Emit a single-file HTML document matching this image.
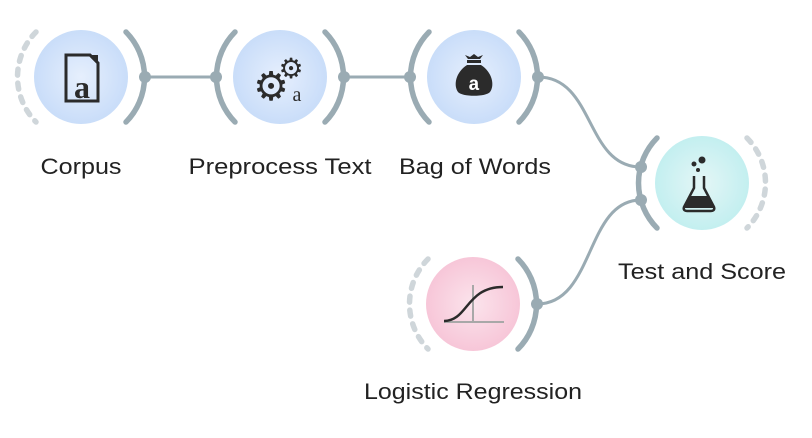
<!DOCTYPE html>
<html><head><style>
html,body{margin:0;padding:0;background:#fff;}
svg{display:block;}
text{font-family:"Liberation Sans",sans-serif;font-size:22px;fill:#222;}
</style></head><body>
<svg width="812" height="438" viewBox="0 0 812 438" xmlns="http://www.w3.org/2000/svg">
<defs>
<radialGradient id="gb" cx="50%" cy="50%" r="50%"><stop offset="0" stop-color="#e6effd"/><stop offset="1" stop-color="#c9ddf9"/></radialGradient>
<radialGradient id="gt" cx="50%" cy="50%" r="50%"><stop offset="0" stop-color="#e4f6f6"/><stop offset="1" stop-color="#c3eff0"/></radialGradient>
<radialGradient id="gp" cx="50%" cy="50%" r="50%"><stop offset="0" stop-color="#fbe4ec"/><stop offset="1" stop-color="#f7c6d8"/></radialGradient>
</defs>
<g fill="none" stroke="#9aabb3" stroke-width="3">
<path d="M145,77 L216,77"/>
<path d="M344,77 L410,77"/>
<path d="M538,77 C595,77 585,167 641,167"/>
<path d="M537,304 C595,304 585,200 641,200"/>
</g>
<g fill="none" stroke="#9aabb3" stroke-width="5.5" stroke-linecap="round">
<path d="M126,32 A64,64 0 0 1 126,122"/>
<path d="M235,32 A64,64 0 0 0 235,122"/>
<path d="M325,32 A64,64 0 0 1 325,122"/>
<path d="M429,32 A64,64 0 0 0 429,122"/>
<path d="M519,32 A64,64 0 0 1 519,122"/>
<path d="M657,138 A64,64 0 0 0 657,228"/>
<path d="M518,259 A64,64 0 0 1 518,349"/>
</g>
<g fill="none" stroke="#cfd6da" stroke-width="5.5" stroke-linecap="round" stroke-dasharray="6 8">
<path d="M36,32 A64,64 0 0 0 36,122"/>
<path d="M747,138 A64,64 0 0 1 747,228"/>
<path d="M428,259 A64,64 0 0 0 428,349"/>
</g>
<g fill="#9aabb3">
<circle cx="145" cy="77" r="6"/><circle cx="216" cy="77" r="6"/>
<circle cx="344" cy="77" r="6"/><circle cx="410" cy="77" r="6"/>
<circle cx="538" cy="77" r="6"/><circle cx="641" cy="167" r="6"/>
<circle cx="641" cy="200" r="6"/><circle cx="537" cy="304" r="6"/>
</g>
<circle cx="81" cy="77" r="47" fill="url(#gb)"/>
<circle cx="280" cy="77" r="47" fill="url(#gb)"/>
<circle cx="474" cy="77" r="47" fill="url(#gb)"/>
<circle cx="702" cy="183" r="47" fill="url(#gt)"/>
<circle cx="473" cy="304" r="47" fill="url(#gp)"/>
<!-- corpus icon -->
<path d="M66,55 L90,55 L98,63 L98,101 L66,101 Z" fill="none" stroke="#2b2b2b" stroke-width="3"/>
<path d="M88,55 L98,55 L98,65 Z" fill="#2b2b2b"/>
<text x="82" y="98" text-anchor="middle" style="font-family:'Liberation Serif',serif;font-size:32px;font-weight:bold;fill:#2b2b2b">a</text>
<!-- preprocess icon -->
<text x="271" y="100" text-anchor="middle" style="font-family:'DejaVu Sans',sans-serif;font-size:40px;fill:#2b2b2b">⚙</text>
<text x="291" y="78" text-anchor="middle" style="font-family:'DejaVu Sans',sans-serif;font-size:28px;fill:#2b2b2b">⚙</text>
<text x="297" y="101" text-anchor="middle" style="font-family:'Liberation Serif',serif;font-size:20px;fill:#2b2b2b">a</text>
<!-- bag icon -->
<path d="M468,59 L465,55 L470,57 L474,54 L478,57 L483,55 L480,59 Z" fill="#2b2b2b"/>
<rect x="467" y="60" width="14" height="3" fill="#2b2b2b"/>
<path d="M467,65 L481,65 C492,72 495,85 490,92 C486,97 462,97 458,92 C453,85 456,72 467,65 Z" fill="#2b2b2b"/>
<text x="474" y="90" text-anchor="middle" style="font-family:'Liberation Mono',monospace;font-size:19px;font-weight:bold;fill:#fff">a</text>
<!-- flask icon -->
<circle cx="694" cy="164" r="2.5" fill="#2b2b2b"/><circle cx="702" cy="160" r="3.5" fill="#2b2b2b"/><circle cx="698" cy="170" r="2" fill="#2b2b2b"/>
<path d="M694,176 L694,188 L684,207 C683,210 685,211 687,211 L711,211 C713,211 715,210 714,207 L704,188 L704,176" fill="none" stroke="#2b2b2b" stroke-width="2.5"/>
<path d="M690,196 L708,196 L714,208 L684,208 Z" fill="#2b2b2b"/>
<!-- logistic icon -->
<path d="M444,322 L504,322 M473,322 L473,285" stroke="#a8a8a8" stroke-width="2" fill="none"/>
<path d="M444,321 C468,321 466,287 503,287" stroke="#2b2b2b" stroke-width="2.5" fill="none"/>
<text x="81" y="174" text-anchor="middle" textLength="81" lengthAdjust="spacingAndGlyphs">Corpus</text>
<text x="280" y="174" text-anchor="middle" textLength="183" lengthAdjust="spacingAndGlyphs">Preprocess Text</text>
<text x="475" y="174" text-anchor="middle" textLength="152" lengthAdjust="spacingAndGlyphs">Bag of Words</text>
<text x="702" y="279" text-anchor="middle" textLength="168" lengthAdjust="spacingAndGlyphs">Test and Score</text>
<text x="473" y="399" text-anchor="middle" textLength="218" lengthAdjust="spacingAndGlyphs">Logistic Regression</text>
</svg>
</body></html>
